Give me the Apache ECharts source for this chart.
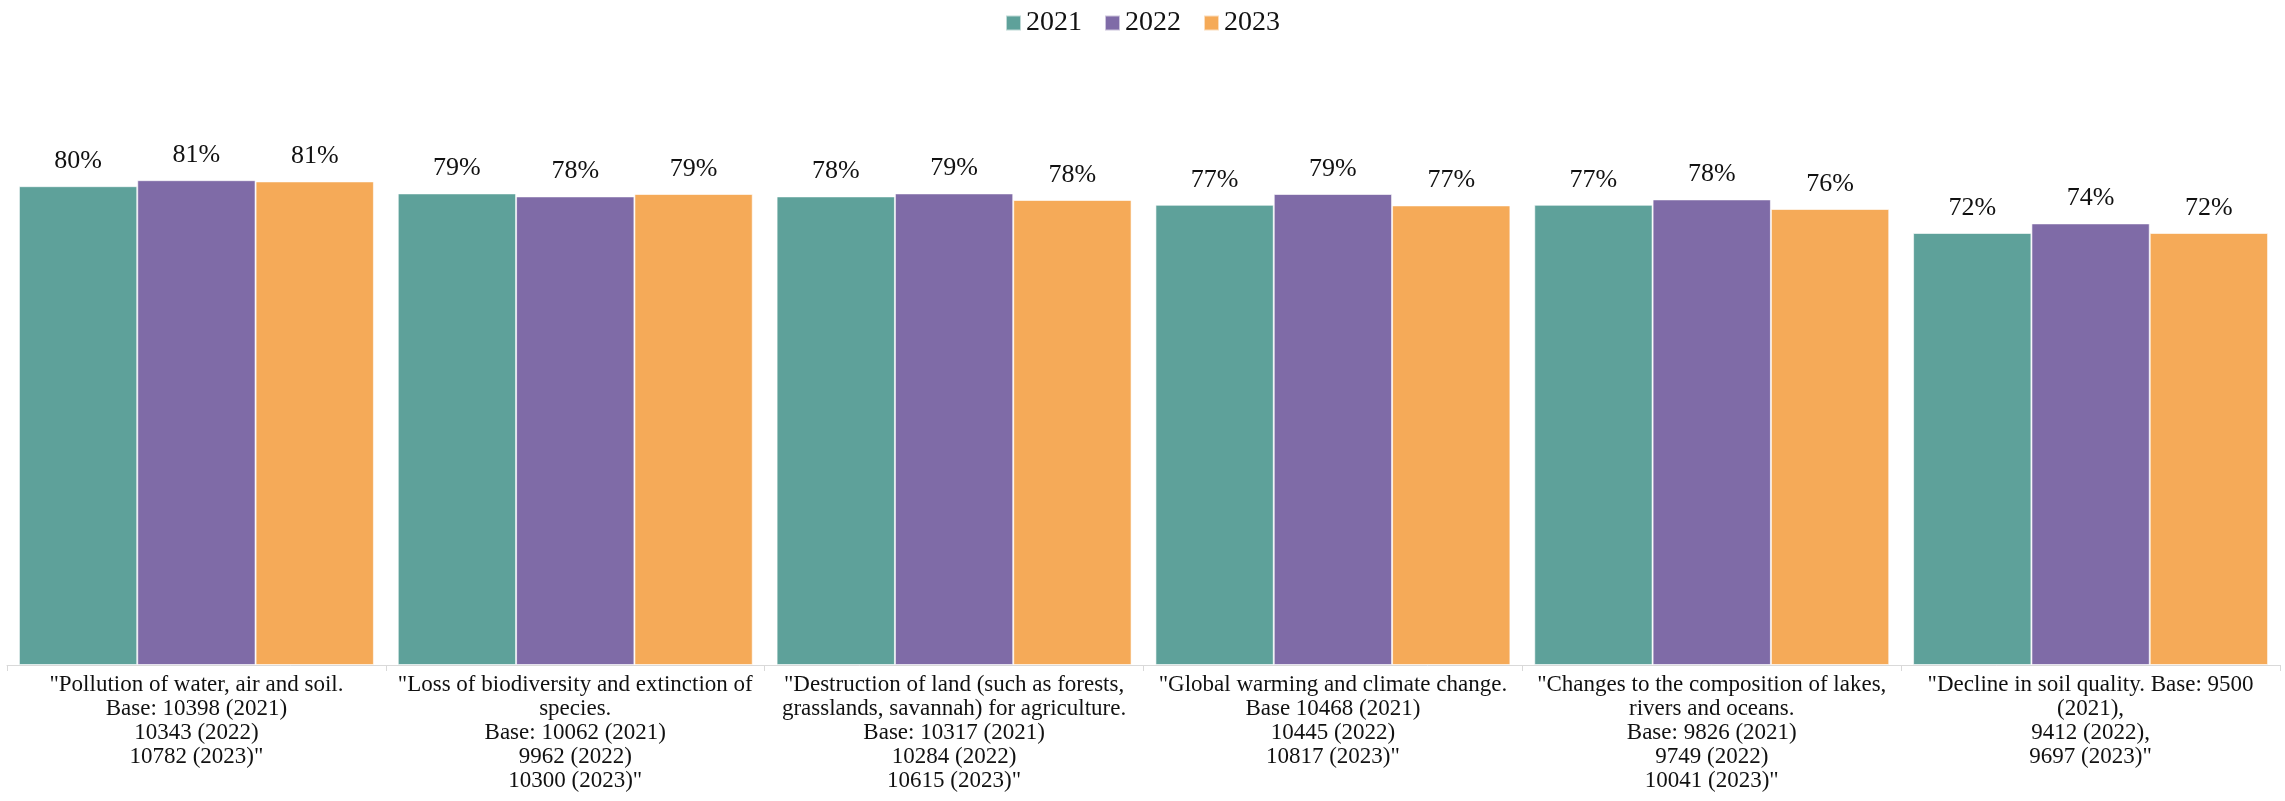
<!DOCTYPE html>
<html>
<head>
<meta charset="utf-8">
<script src="https://cdn.jsdelivr.net/npm/echarts@6/dist/echarts.min.js"></script>
<style>
  html, body { margin: 0; padding: 0; background: #fff; }
  #chart { width: 2285px; height: 801px; }
</style>
</head>
<body>
<div id="chart"></div>
<script>
// 카테고리 (원본 줄바꿈 그대로)
const categories = [
	'"Pollution of water, air and soil.\nBase: 10398 (2021)\n10343 (2022)\n10782 (2023)"',
	'"Loss of biodiversity and extinction of\nspecies.\nBase: 10062 (2021)\n9962 (2022)\n10300 (2023)"',
	'"Destruction of land (such as forests,\ngrasslands, savannah) for agriculture.\nBase: 10317 (2021)\n10284 (2022)\n10615 (2023)"',
	'"Global warming and climate change.\nBase 10468 (2021)\n10445 (2022)\n10817 (2023)"',
	'"Changes to the composition of lakes,\nrivers and oceans.\nBase: 9826 (2021)\n9749 (2022)\n10041 (2023)"',
	'"Decline in soil quality. Base: 9500\n(2021),\n9412 (2022),\n9697 (2023)"'
];

const years = ['2021', '2022', '2023'];

// 값 (비율)
const values2021 = [0.798, 0.786, 0.781, 0.767, 0.767, 0.720];
const values2022 = [0.808, 0.781, 0.786, 0.785, 0.776, 0.736];
const values2023 = [0.806, 0.785, 0.775, 0.766, 0.760, 0.720];

const colors = ['#5EA19A', '#7F6BA7', '#F5AA58'];

const FONT = '"Liberation Serif", "DejaVu Serif", serif';

const chart = echarts.init(document.getElementById('chart'));

function makeSeries(name, data, color) {
	return {
		name: name,
		type: 'bar',
		data: data,
		barGap: 0,
		barCategoryGap: '6.3%',
		itemStyle: {
			color: color,
			borderColor: 'rgba(255,255,255,0.6)',
			borderWidth: 1
		},
		label: {
			show: true,
			position: 'top',
			distance: 12,
			fontFamily: FONT,
			fontSize: 26,
			color: '#111',
			formatter: p => Math.round(p.value * 100) + '%'
		}
	};
}

const option = {
	animation: false,
	textStyle: { fontFamily: FONT },
	legend: {
		top: 4,
		left: 'center',
		itemWidth: 15,
		itemHeight: 15,
		itemGap: 22,
		icon: 'rect',
		textStyle: {
			fontFamily: FONT,
			fontSize: 28,
			color: '#111'
		},
		data: years
	},
	grid: {
		left: 7,
		right: 5,
		top: 65,
		bottom: 136,
		containLabel: false
	},
	xAxis: {
		type: 'category',
		data: categories,
		axisLine: { lineStyle: { color: '#d9d9d9', width: 1 } },
		axisTick: { show: true, length: 6, lineStyle: { color: '#d9d9d9' } },
		axisLabel: {
			interval: 0,
			margin: 8,
			fontFamily: FONT,
			fontSize: 23,
			lineHeight: 24,
			color: '#111',
			align: 'center',
			verticalAlign: 'top'
		}
	},
	yAxis: {
		type: 'value',
		min: 0,
		max: 1,
		show: false,
		splitLine: { show: false }
	},
	series: [
		makeSeries(years[0], values2021, colors[0]),
		makeSeries(years[1], values2022, colors[1]),
		makeSeries(years[2], values2023, colors[2])
	]
};

chart.setOption(option);
</script>
</body>
</html>
